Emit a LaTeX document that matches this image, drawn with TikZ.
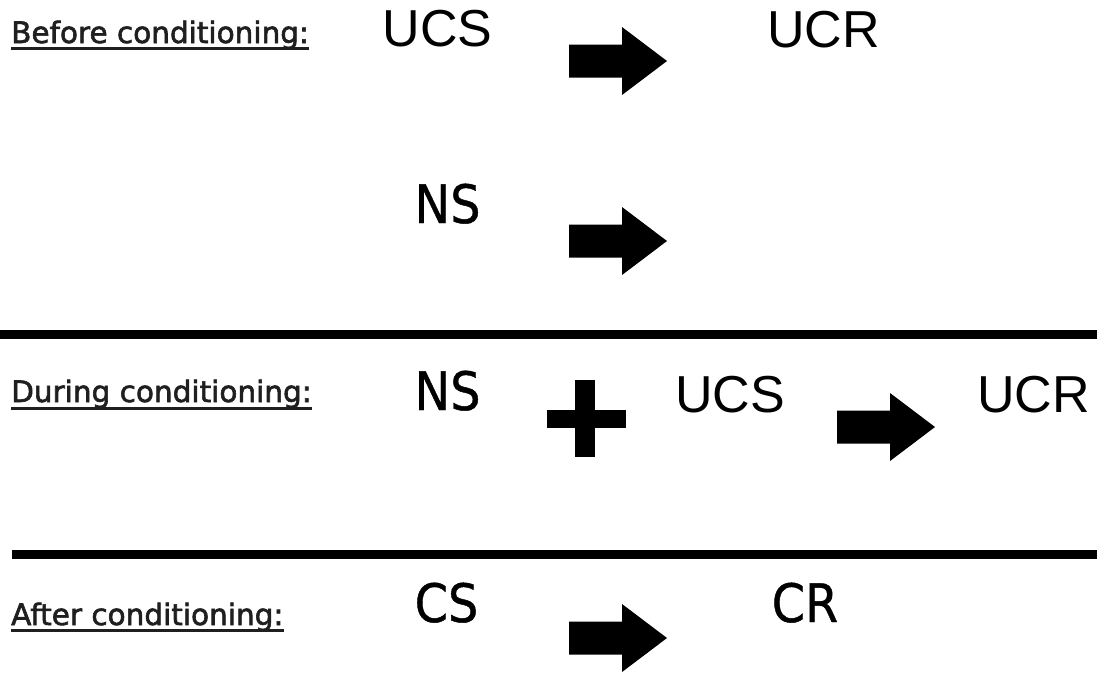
\documentclass[tikz,border=0pt]{standalone}
\usepackage{fontspec}
\newfontfamily\arialf{Liberation Sans}
\newfontfamily\dvsc[FakeStretch=0.9,FakeBold=0.8]{DejaVu Sans}
\newfontfamily\dvs[FakeBold=2]{DejaVu Sans}
\definecolor{labgray}{gray}{0.12}
\tikzset{
  big/.style={inner sep=0pt, anchor=base, font=\arialf\fontsize{52}{60}\selectfont},
  mid/.style={inner sep=0pt, anchor=base, font=\dvsc\fontsize{53}{60}\selectfont},
  rowlab/.style={inner sep=0pt, anchor=base west, text=labgray, font=\dvs\fontsize{29.5}{34}\selectfont},
  sepline/.style={line width=9pt},
  uline/.style={line width=3pt, draw=labgray},
  bigarrow/.pic={\fill (-49,-16.5) -- (4,-16.5) -- (4,-34) -- (49,0) -- (4,34) -- (4,16.5) -- (-49,16.5) -- cycle;}
}
\begin{document}
\begin{tikzpicture}[x=1pt,y=-1pt]
\useasboundingbox (0,0) rectangle (1097,673);
% row labels
\node[rowlab] (lb1) at (11,43) {Before conditioning:};
\node[rowlab] (lb2) at (11,402) {During conditioning:};
\node[rowlab] (lb3) at (11,625) {After conditioning:};
\draw[uline] ([yshift=-5pt]lb1.base west) -- ([yshift=-5pt]lb1.base east);
\draw[uline] ([yshift=-6pt]lb2.base west) -- ([yshift=-6pt]lb2.base east);
\draw[uline] ([yshift=-5pt]lb3.base west) -- ([yshift=-5pt]lb3.base east);
% before
\node[big] (ucs1) at (437.5,46) {UCS};
\node[big] (ucr1) at (823.5,47) {UCR};
\pic at (618,61) {bigarrow};
\node[mid] (ns1) at (447.5,223) {NS};
\pic at (618,241) {bigarrow};
% separator 1
\coordinate (s1a) at (0,334.5);
\coordinate (s1b) at (1097,334.5);
\draw[sepline] (s1a) -- (s1b);
% during
\node[mid] (ns2) at (447.5,410) {NS};
\fill (547,410) rectangle (626,428);
\fill (575,380) rectangle (595,457);
\node[big] (ucs2) at (730,412) {UCS};
\pic at (886,427) {bigarrow};
\node[big] (ucr2) at (1033.5,412) {UCR};
% separator 2
\coordinate (s2a) at (12,554);
\coordinate (s2b) at (1097,554);
\draw[sepline] (s2a) -- (s2b);
% after
\node[mid] (cs3) at (446.5,622) {CS};
\pic at (618,638) {bigarrow};
\node[mid] (cr3) at (805,622) {CR};
\end{tikzpicture}
\end{document}
